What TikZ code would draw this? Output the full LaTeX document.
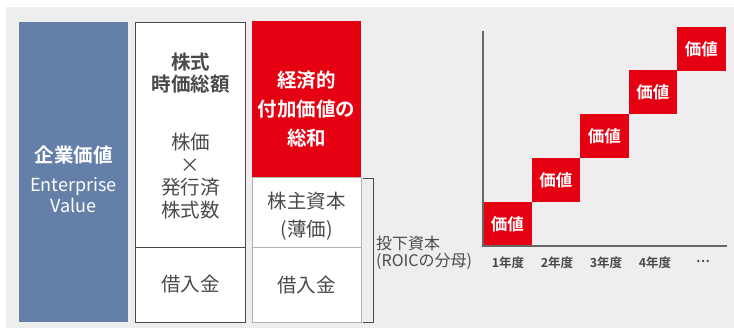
\documentclass[tikz,border=0pt]{standalone}
\usepackage{fontspec}
\newfontfamily\jp{Noto Sans CJK JP}
\newfontfamily\jpb{Noto Sans CJK JP Bold}
\definecolor{bgc}{HTML}{EEEEEE}
\definecolor{evblue}{HTML}{6480A8}
\definecolor{vred}{HTML}{E50012}
\definecolor{txt}{HTML}{4A4A4A}
\definecolor{axisc}{HTML}{666666}
\tikzset{
  box/.style={anchor=north west, inner sep=0pt, outer sep=0pt},
  lbl/.style={inner sep=0pt, align=center, text=txt},
  sq/.style={box, fill=vred, minimum width=48.5pt, minimum height=44pt, text=white, font=\jpb\fontsize{16.5}{18}\selectfont},
  yr/.style={inner sep=0pt, text=txt, font=\jpb\fontsize{12.5}{14}\selectfont},
}
\begin{document}
\begin{tikzpicture}[x=1pt,y=-1pt]
\useasboundingbox (0,0) rectangle (734,328);
\fill[white] (0,0) rectangle (734,328);
\fill[bgc] (6,7) rectangle (734,328);
% left boxes
\node[box, fill=evblue, minimum width=109pt, minimum height=300pt] (ev) at (19,22) {};
\node[box, fill=white, draw=txt, line width=0.9pt, minimum width=110pt, minimum height=225pt] (mc) at (135.5,22) {};
\node[box, fill=white, draw=txt, line width=0.9pt, minimum width=110pt, minimum height=75pt] (db1) at (135.5,247) {};
\node[box, fill=vred, minimum width=109pt, minimum height=156pt] (eva) at (252,21) {};
\node[box, fill=white, draw=black!30, line width=0.7pt, minimum width=109pt, minimum height=70pt] (eq) at (252,177) {};
\node[box, fill=white, draw=black!30, line width=0.7pt, minimum width=109pt, minimum height=75pt] (db2) at (252,247) {};
% texts
\node[lbl, text=white, font=\jpb\fontsize{19.5}{22}\selectfont] (evt) at (73.5,155) {企業価値};
\node[lbl, text=white, font=\jp\fontsize{18}{20.5}\selectfont] (evs) at (73.5,195) {Enterprise\\Value};
\node[lbl, font=\jpb\fontsize{19.5}{22.5}\selectfont] (mct) at (190.5,73) {株式\\時価総額};
\node[lbl, font=\jp\fontsize{19.5}{22.7}\selectfont] (mcs) at (190.5,176) {株価\\×\\発行済\\株式数};
\node[lbl, font=\jp\fontsize{19.5}{22}\selectfont] (db1t) at (190.5,284.5) {借入金};
\node[lbl, text=white, font=\jpb\fontsize{19.5}{29}\selectfont] (evat) at (306.5,109) {経済的\\付加価値の\\総和};
\node[lbl, font=\jp\fontsize{19.5}{28}\selectfont] (eqt) at (306.5,216) {株主資本\\(薄価)};
\node[lbl, font=\jp\fontsize{19.5}{22}\selectfont] (db2t) at (306.5,285) {借入金};
% bracket
\coordinate (bt) at (363,178);
\coordinate (bb) at (363,322);
\draw[txt, line width=0.9pt] (bt) -- ++(10,0) |- (bb);
\node[lbl, anchor=west, align=left, font=\jp\fontsize{16}{17.5}\selectfont] (ic) at (376,253) {投下資本\\(ROICの分母)};
% chart
\coordinate (o) at (483,246);
\coordinate (ytop) at (483,31);
\coordinate (xend) at (727,246);
\node[sq] (v1) at (483,202) {価値};
\node[sq] (v2) at (531.5,158) {価値};
\node[sq] (v3) at (580,114) {価値};
\node[sq] (v4) at (628.5,70) {価値};
\node[sq] (v5) at (677,27) {価値};
\draw[axisc, line width=1.1pt] (ytop) -- (o) -- (xend);
\node[yr] (y1) at (508,262.5) {1年度};
\node[yr] (y2) at (557,262.5) {2年度};
\node[yr] (y3) at (606,262.5) {3年度};
\node[yr] (y4) at (655,262.5) {4年度};
\node[yr] (y5) at (703,261) {…};
\end{tikzpicture}
\end{document}
